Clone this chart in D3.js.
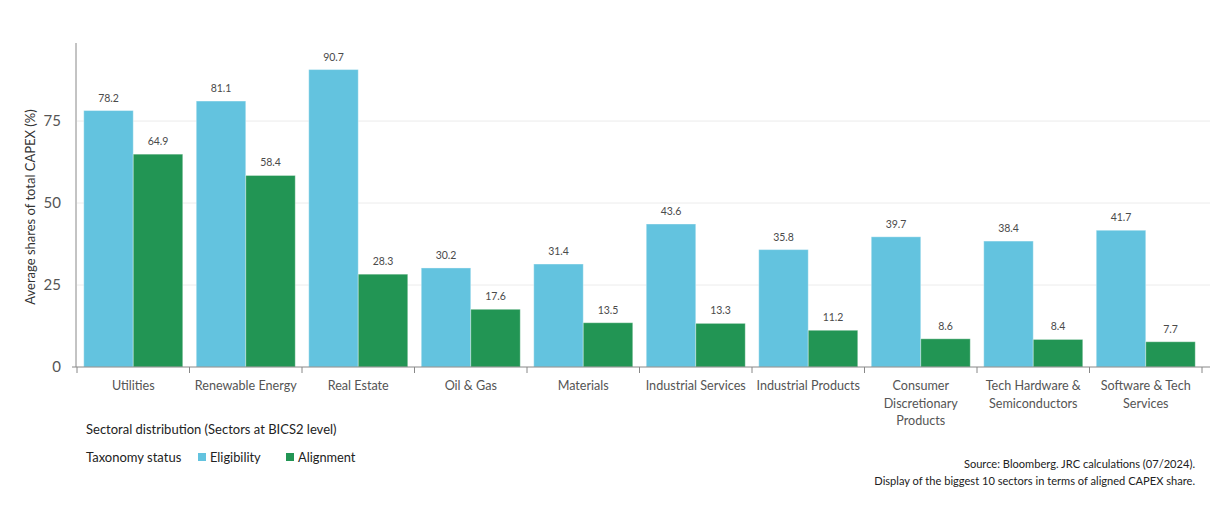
<!DOCTYPE html>
<html>
<head>
<meta charset="utf-8">
<script src="https://cdn.jsdelivr.net/npm/d3@7"></script>
<style>
  html, body { margin: 0; padding: 0; background: #fff; }
  svg { display: block; font-family: Lato, "Noto Sans", sans-serif; }
</style>
</head>
<body>
<svg id="chart" width="1212" height="517"></svg>
<script>
// Sectors (BICS2 level), each label split into display lines
const sectors = [
  ["Utilities"],
  ["Renewable Energy"],
  ["Real Estate"],
  ["Oil & Gas"],
  ["Materials"],
  ["Industrial Services"],
  ["Industrial Products"],
  ["Consumer", "Discretionary", "Products"],
  ["Tech Hardware &", "Semiconductors"],
  ["Software & Tech", "Services"]
];
const eligibility = [78.2, 81.1, 90.7, 30.2, 31.4, 43.6, 35.8, 39.7, 38.4, 41.7];
const alignment   = [64.9, 58.4, 28.3, 17.6, 13.5, 13.3, 11.2, 8.6, 8.4, 7.7];
const seriesNames = ["Eligibility", "Alignment"];
const yTicks = [0, 25, 50, 75];

const colors = { Eligibility: "#63c3df", Alignment: "#229554" };

const svg = d3.select("#chart");
const plot = { left: 77, right: 1202, top: 43, bottom: 367 };

const keys = sectors.map((d, i) => "s" + i);
const x = d3.scaleBand().domain(keys).range([plot.left, plot.right])
  .paddingInner(0.12).paddingOuter(0.06);
const xs = d3.scaleBand().domain(seriesNames).range([0, x.bandwidth()]);
const y = d3.scaleLinear().domain([0, 98.8]).range([plot.bottom, plot.top]);

// horizontal gridlines
svg.append("g").selectAll("line").data(yTicks.filter(t => t > 0)).join("line")
  .attr("x1", plot.left).attr("x2", 1210)
  .attr("y1", d => y(d)).attr("y2", d => y(d))
  .attr("stroke", "#ececec").attr("stroke-width", 1);

// bars
const rows = sectors.map((s, i) => ({ key: keys[i], values: [
  { name: "Eligibility", v: eligibility[i] },
  { name: "Alignment", v: alignment[i] }
]}));

const groups = svg.append("g").selectAll("g").data(rows).join("g")
  .attr("transform", d => `translate(${x(d.key)},0)`);

groups.selectAll("rect").data(d => d.values).join("rect")
  .attr("x", d => xs(d.name))
  .attr("y", d => y(d.v))
  .attr("width", xs.bandwidth())
  .attr("height", d => y(0) - y(d.v))
  .attr("fill", d => colors[d.name])
  .attr("stroke", "rgba(255,255,255,0.35)")
  .attr("stroke-width", 1);

groups.selectAll("text").data(d => d.values).join("text")
  .attr("x", d => xs(d.name) + xs.bandwidth() / 2)
  .attr("y", d => y(d.v) - 9)
  .attr("text-anchor", "middle")
  .attr("font-size", 10.5)
  .attr("fill", "#4a4a4a")
  .text(d => d.v.toFixed(1));

// y axis
const yAxis = svg.append("g").attr("transform", `translate(${plot.left - 1},0)`);
yAxis.append("line").attr("x1", 0).attr("x2", 0)
  .attr("y1", plot.top).attr("y2", plot.bottom).attr("stroke", "#888");
yAxis.selectAll("text").data(yTicks).join("text")
  .attr("x", -15).attr("y", d => y(d)).attr("dy", "0.36em")
  .attr("text-anchor", "end").attr("font-size", 15).attr("fill", "#555")
  .text(d => d);

svg.append("text")
  .attr("transform", `translate(35,${(plot.top + plot.bottom) / 2 + 2}) rotate(-90)`)
  .attr("text-anchor", "middle").attr("font-size", 13).attr("fill", "#333")
  .text("Average shares of total CAPEX (%)");

// x axis
const xAxis = svg.append("g");
xAxis.append("line").attr("x1", plot.left - 5).attr("x2", plot.right + 8)
  .attr("y1", plot.bottom).attr("y2", plot.bottom).attr("stroke", "#888");
const bounds = keys.map(k => x(k) - x.step() * x.paddingInner() / 2);
bounds.push(plot.right - x.step() * x.paddingOuter() + x.step() * x.paddingInner() / 2);
xAxis.selectAll("line.tick").data(bounds).join("line").attr("class", "tick")
  .attr("x1", d => d).attr("x2", d => d)
  .attr("y1", plot.bottom).attr("y2", plot.bottom + 6).attr("stroke", "#888");

const labels = xAxis.selectAll("text").data(rows).join("text")
  .attr("text-anchor", "middle").attr("font-size", 12.6).attr("fill", "#555");
labels.each(function(d, i) {
  const t = d3.select(this);
  sectors[i].forEach((line, j) => {
    t.append("tspan")
      .attr("x", x(d.key) + x.bandwidth() / 2)
      .attr("y", 390 + j * 17.5)
      .text(line);
  });
});

// axis title
svg.append("text").attr("x", 86).attr("y", 434)
  .attr("font-size", 13).attr("fill", "#222")
  .text("Sectoral distribution (Sectors at BICS2 level)");

// legend
const legend = svg.append("g").attr("transform", "translate(86,462)");
legend.append("text").attr("x", 0).attr("y", 0)
  .attr("font-size", 13).attr("fill", "#222").text("Taxonomy status");
const items = legend.selectAll("g.item").data(seriesNames).join("g").attr("class", "item")
  .attr("transform", (d, i) => `translate(${112 + i * 88},0)`);
items.append("rect").attr("x", 0).attr("y", -9).attr("width", 8).attr("height", 8)
  .attr("fill", d => colors[d]);
items.append("text").attr("x", 12).attr("y", 0)
  .attr("font-size", 12.8).attr("fill", "#222").text(d => d);

// source note
const note = svg.append("g").attr("text-anchor", "end").attr("font-size", 11.1).attr("fill", "#222");
note.append("text").attr("x", 1195).attr("y", 468).text("Source: Bloomberg. JRC calculations (07/2024).");
note.append("text").attr("x", 1195).attr("y", 485).text("Display of the biggest 10 sectors in terms of aligned CAPEX share.");
</script>
</body>
</html>
